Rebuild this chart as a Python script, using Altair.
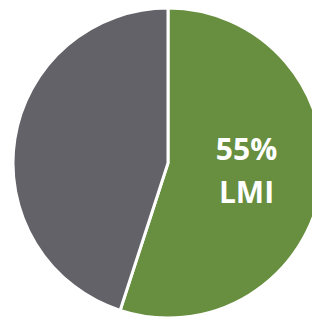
import altair as alt
import pandas as pd

categories = ["LMI", "Non-LMI"]
values = [55, 45]
colors = ["#678F3F", "#636268"]
order = [0, 1]

df = pd.DataFrame({"category": categories, "value": values, "order": order})
lab = pd.DataFrame({"label": [f"{values[0]}%\n{categories[0]}"]})

pie = alt.Chart(df).mark_arc(radius=155, stroke="white", strokeWidth=3).encode(
    theta=alt.Theta("value:Q", stack=True),
    color=alt.Color("category:N", scale=alt.Scale(domain=categories, range=colors), legend=None),
    order=alt.Order("order:Q"),
    x=alt.value(160),
    y=alt.value(155),
)

text = alt.Chart(lab).mark_text(
    font="Open Sans", fontWeight="bold", fontSize=30, color="white",
    lineBreak="\n", lineHeight=43, align="center", baseline="alphabetic",
).encode(
    text="label:N",
    x=alt.value(238.5),
    y=alt.value(152),
)

chart = alt.layer(pie, text).properties(
    width=304, height=309, padding=0,
    autosize=alt.AutoSizeParams(type="none"),
).configure_view(stroke=None)

chart.save("out.html", embed_options={"renderer": "svg", "actions": False})
